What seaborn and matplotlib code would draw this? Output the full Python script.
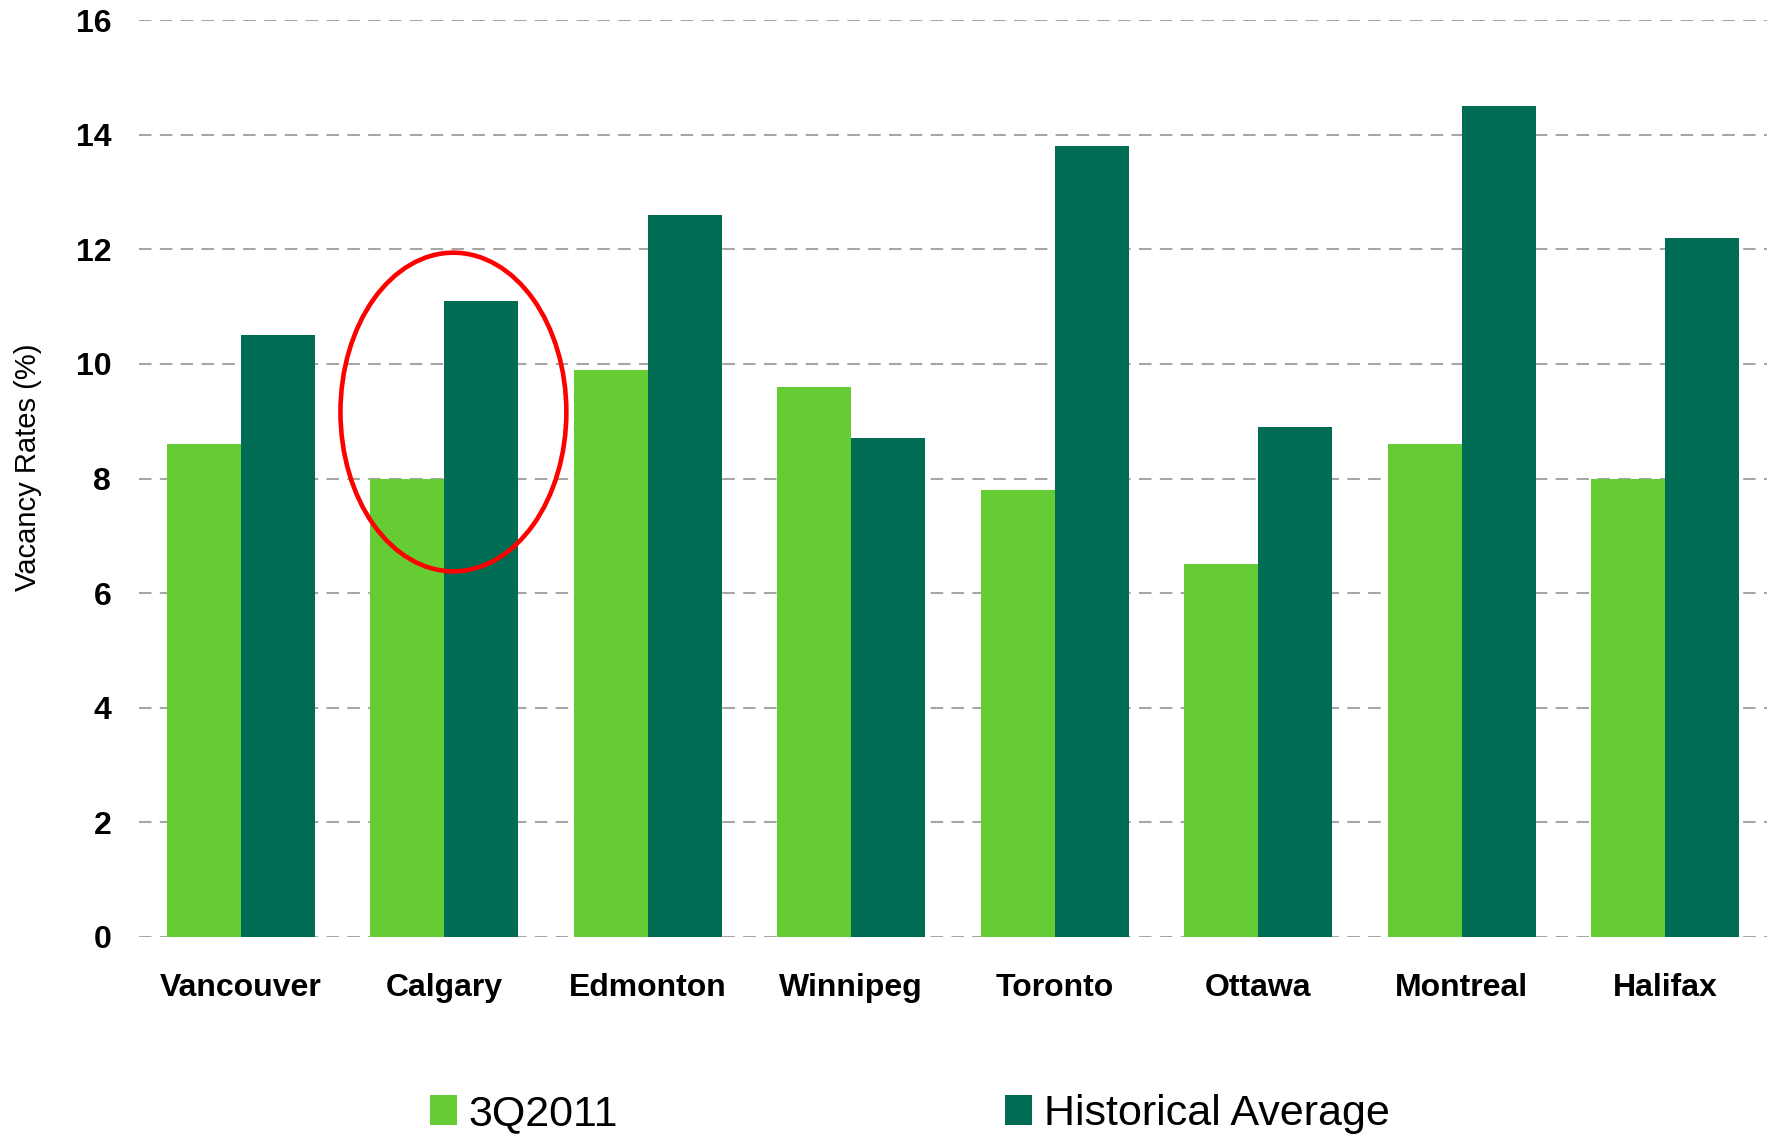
import pandas as pd
import seaborn as sns
import matplotlib.pyplot as plt
from matplotlib.patches import Ellipse

cities = ['Vancouver', 'Calgary', 'Edmonton', 'Winnipeg', 'Toronto', 'Ottawa', 'Montreal', 'Halifax']
q3_2011 = [8.6, 8.0, 9.9, 9.6, 7.8, 6.5, 8.6, 8.0]
hist_avg = [10.5, 11.1, 12.6, 8.7, 13.8, 8.9, 14.5, 12.2]
series = ['3Q2011', 'Historical Average']
colors = ['#66CC33', '#006C54']

df = pd.DataFrame({
    'City': cities * 2,
    'Series': [series[0]] * len(cities) + [series[1]] * len(cities),
    'Rate': q3_2011 + hist_avg,
})

sns.set_theme(style='white')
plt.rcParams['font.family'] = ['Liberation Sans', 'DejaVu Sans']
plt.rcParams['text.color'] = 'black'
plt.rcParams['axes.labelcolor'] = 'black'
plt.rcParams['xtick.color'] = 'black'
plt.rcParams['ytick.color'] = 'black'

fig = plt.figure(figsize=(17.7, 11.36), dpi=100)
ax = fig.add_axes([139 / 1770, 1 - 937 / 1136, (1767 - 139) / 1770, (937 - 20) / 1136])

sns.barplot(data=df, x='City', y='Rate', hue='Series', palette=colors,
            width=0.725, gap=0, saturation=1, linewidth=0, ax=ax, legend=True)

ax.set_ylim(0, 16)
ax.set_yticks(range(0, 17, 2))
ax.set_xlim(-0.5, len(cities) - 0.5)
for s in ax.spines.values():
    s.set_visible(False)
ax.set_axisbelow(True)
ax.yaxis.grid(True, color='#a6a6a6', linestyle=(0, (6, 4)), linewidth=1.5)
ax.xaxis.grid(False)
ax.tick_params(axis='both', length=0)
ax.tick_params(axis='y', pad=20, labelsize=23)
ax.tick_params(axis='x', pad=26, labelsize=23)
for lab in ax.get_xticklabels() + ax.get_yticklabels():
    lab.set_fontweight('bold')

ax.set_xlabel('')
ax.set_ylabel('Vacancy Rates (%)', fontsize=21, va='center')
ax.yaxis.set_label_coords(-0.0684, 0.512)

# red highlight around Calgary
ax.add_patch(Ellipse((1.045, 9.16), 1.11, 5.56, fill=False, edgecolor='#FF0000',
                     linewidth=3.3, zorder=5, clip_on=False))

handles, labels = ax.get_legend_handles_labels()
ax.get_legend().remove()
fig.legend(handles, labels, loc='center left', bbox_to_anchor=(430 / 1770, 1 - 1114 / 1136),
           ncol=2, frameon=False, fontsize=31, borderpad=0, borderaxespad=0,
           handlelength=0.62, handleheight=0.68, handletextpad=0.27, columnspacing=9.0)

fig.savefig('out.png', dpi=100)
